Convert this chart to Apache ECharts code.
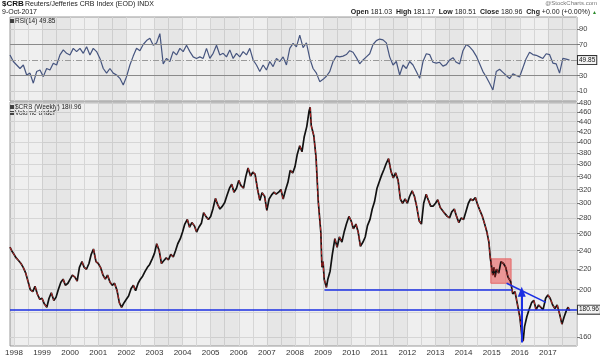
<!DOCTYPE html>
<html><head><meta charset="utf-8">
<script src="https://cdn.jsdelivr.net/npm/echarts@6/dist/echarts.min.js"></script>
<style>html,body{margin:0;padding:0;background:#fff}#c{width:600px;height:358px}</style>
</head><body><div id="c"></div>
<script>
// ---- data ----
const priceYears = [1997.86,1997.92,
1998.00,1998.08,1998.17,1998.25,1998.33,1998.42,1998.50,1998.58,1998.67,1998.75,1998.83,1998.92,
1999.00,1999.08,1999.17,1999.25,1999.33,1999.42,1999.50,1999.58,1999.67,1999.75,1999.83,1999.92,
2000.00,2000.08,2000.17,2000.25,2000.33,2000.42,2000.50,2000.58,2000.67,2000.75,2000.83,2000.92,
2001.00,2001.08,2001.17,2001.25,2001.33,2001.42,2001.50,2001.58,2001.67,2001.75,2001.83,2001.92,
2002.00,2002.08,2002.17,2002.25,2002.33,2002.42,2002.50,2002.58,2002.67,2002.75,2002.83,2002.92,
2003.00,2003.08,2003.17,2003.25,2003.33,2003.42,2003.50,2003.58,2003.67,2003.75,2003.83,2003.92,
2004.00,2004.08,2004.17,2004.25,2004.33,2004.42,2004.50,2004.58,2004.67,2004.75,2004.83,2004.92,
2005.00,2005.08,2005.17,2005.25,2005.33,2005.42,2005.50,2005.58,2005.67,2005.75,2005.83,2005.92,
2006.00,2006.08,2006.17,2006.25,2006.33,2006.42,2006.50,2006.58,2006.67,2006.75,2006.83,2006.92,
2007.00,2007.08,2007.17,2007.25,2007.33,2007.42,2007.50,2007.58,2007.67,2007.75,2007.83,2007.92,
2008.00,2008.08,2008.17,2008.25,2008.33,2008.42,2008.50,2008.54,2008.58,2008.67,2008.75,2008.83,2008.92,2008.96,
2009.00,2009.04,2009.12,2009.17,2009.25,2009.33,2009.42,2009.50,2009.58,2009.67,2009.75,2009.83,2009.92,
2010.00,2010.08,2010.17,2010.25,2010.33,2010.42,2010.50,2010.58,2010.67,2010.75,2010.83,2010.92,
2011.00,2011.08,2011.17,2011.25,2011.33,2011.42,2011.50,2011.58,2011.67,2011.75,2011.83,2011.92,
2012.00,2012.08,2012.17,2012.25,2012.33,2012.42,2012.50,2012.58,2012.67,2012.75,2012.83,2012.92,
2013.00,2013.08,2013.17,2013.25,2013.33,2013.42,2013.50,2013.58,2013.67,2013.75,2013.83,2013.92,
2014.00,2014.08,2014.17,2014.25,2014.33,2014.42,2014.50,2014.58,2014.67,2014.75,2014.83,2014.90,2014.95,
2015.00,2015.04,2015.08,2015.12,2015.17,2015.25,2015.33,2015.42,2015.50,2015.58,2015.67,2015.75,2015.83,2015.92,
2016.00,2016.04,2016.08,2016.12,2016.17,2016.25,2016.33,2016.42,2016.50,2016.58,2016.67,2016.75,2016.83,2016.92,
2017.00,2017.08,2017.17,2017.25,2017.33,2017.42,2017.50,2017.58,2017.67,2017.72,2017.77];
const priceValues = [244,240,
236,232,229,226,222,216,208,200,198,203,196,191,
192,187,184,192,197,190,193,200,207,210,204,206,
210,214,212,208,222,228,222,220,226,236,242,228,
226,222,214,210,214,207,204,206,199,188,184,188,
191,194,201,204,199,206,210,213,218,222,225,231,
237,248,240,226,229,232,230,236,233,240,248,254,
262,272,278,268,274,270,262,268,273,287,282,278,
282,292,307,298,292,296,301,311,322,328,316,322,
334,326,322,340,354,341,347,344,320,304,315,310,
290,306,312,316,313,316,320,306,320,331,350,346,
356,377,393,382,410,430,462,471,432,412,372,302,262,222,
228,210,202,210,218,236,254,244,256,250,262,272,282,
276,266,272,262,245,250,256,270,278,292,302,322,
332,342,352,362,370,348,338,346,334,306,300,306,
300,310,318,310,296,276,272,300,313,304,296,296,
300,305,294,290,286,282,280,288,292,282,274,280,
278,288,300,306,304,308,298,290,282,272,262,250,232,
222,214,222,212,220,216,228,226,222,212,208,196,198,186,
176,168,160,157,168,176,182,188,190,182,186,184,182,192,
195,192,186,183,186,178,170,176,182,184,181];

const rsiStart = 1997.86, rsiEnd = 2017.77;
const rsiValues = [56.5,48,43.5,39,43.5,30.6,33,20,35,37,28.5,39,37,45.7,43.5,56.5,63,58.6,56.5,65,60.8,65,58.6,67,56.5,65,60.8,52,39,33,39,33,30.6,26.3,17.7,28.5,43.5,55,65,62,70,75,78,69,72,84,45,52,48,60.8,56.5,65,60.8,69,60.8,54,52,54,52,65,52,58.6,69,56.5,58.6,54,63,52,58.6,54,60.8,56.5,65,50,43.5,35,43.5,37,48,41.4,52,48,54,43.5,65,71.5,67,82,
66,72,52,39,33,22,25,29,35,48,55,54,55,57,62,60,53,45,50,54,58,70,75,77,76,72,54,43.5,48,30.6,43.5,39,48,43.5,35,26.3,48,58,57,47,46,47,42,44,50,53,47,45,62,70,67,62,55,45,35,28,20,11.3,35,38,34,30,26,32,30,28,40,52,60,57,56,54,52,58,57,46,45,33,52,51,49.85];

const priceTicks = [160,180,200,220,240,260,280,300,320,340,360,380,400,420,440,460,480];
const rsiTicks = [10,30,70,90];
const yearTicks = [1998,1999,2000,2001,2002,2003,2004,2005,2006,2007,2008,2009,2010,2011,2012,2013,2014,2015,2016,2017];
const lastClose = 180.96, lastRsi = 49.85;
const supportLevel = 182, breakLevel = 200;

// ---- build ----
const L = v => Math.log10(v);
const xMin = 1997.86, xMax = 2018.036;
const halfYears = [];
yearTicks.forEach(y => { halfYears.push(y); halfYears.push(y + 0.5); });
halfYears.push(2018);

const priceData = priceYears.map((t, i) => [t, L(priceValues[i])]);
// red overlay: falling stretches, separated by gaps
const redData = [];
let inRun = false;
for (let i = 1; i < priceValues.length; i++) {
  if (priceValues[i] < priceValues[i - 1]) {
    if (!inRun) { redData.push(priceData[i - 1]); inRun = true; }
    redData.push(priceData[i]);
  } else if (inRun) {
    redData.push([priceData[i - 1][0] + 0.001, '-']);
    inRun = false;
  }
}
const rsiStep = (rsiEnd - rsiStart) / (rsiValues.length - 1);
const rsiData = rsiValues.map((v, i) => [rsiStart + i * rsiStep, v]);
const hiBase = rsiData.map(d => [d[0], 70]);
const hiTop = rsiData.map(d => [d[0], Math.max(d[1], 70) - 70]);
const loBase = rsiData.map(d => [d[0], Math.min(d[1], 30)]);
const loTop = rsiData.map(d => [d[0], 30 - Math.min(d[1], 30)]);

const bands = [];
[1997, 1999, 2001, 2003, 2005, 2007, 2009, 2011, 2013, 2015, 2017].forEach(y => {
  bands.push([{ xAxis: Math.max(y, xMin), itemStyle: { color: 'rgba(0,0,0,0.035)' } }, { xAxis: Math.min(y + 1, xMax) }]);
});

const FONT = 'Liberation Sans, Arial, sans-serif';
const blue = '#1b2fe3';
const rsiColor = '#46557f';
const clear = 'rgba(0,0,0,0)';

const chart = echarts.init(document.getElementById('c'), null, { renderer: 'canvas' });
const boxLabel = {
  show: true, position: 'end', distance: 1, fontSize: 6.5, color: '#111', fontFamily: FONT, opacity: 1,
  backgroundColor: '#f4f4f4', borderColor: '#333', borderWidth: 1, padding: [1, 1, 0, 1]
};
chart.setOption({
  animation: false,
  textStyle: { fontFamily: FONT },
  grid: [
    { left: 10, right: 23, top: 17, height: 84, show: true, backgroundColor: '#efefef', borderColor: '#9a9a9a', borderWidth: 1 },
    { left: 10, right: 23, top: 102, height: 244, show: true, backgroundColor: '#efefef', borderColor: '#9a9a9a', borderWidth: 1 }
  ],
  xAxis: [
    { gridIndex: 0, type: 'value', min: xMin, max: xMax, axisLine: { show: false },
      axisTick: { show: false, customValues: halfYears }, axisLabel: { show: false },
      splitLine: { show: true, lineStyle: { color: '#d6d6d6', width: 1 } } },
    { gridIndex: 1, type: 'value', min: xMin, max: xMax, axisLine: { show: false },
      axisTick: { show: false, customValues: halfYears },
      axisLabel: { show: true, customValues: yearTicks, formatter: v => String(Math.round(v)), fontSize: 8, color: '#333', margin: 3 },
      splitLine: { show: true, lineStyle: { color: '#d6d6d6', width: 1 } } }
  ],
  yAxis: [
    { gridIndex: 0, type: 'value', min: -3, max: 105.5, position: 'right', axisLine: { show: false },
      axisTick: { show: true, length: 3, lineStyle: { color: '#777' }, customValues: [10, 30, 70, 90] },
      axisLabel: { customValues: rsiTicks, fontSize: 7.5, color: '#444', margin: 2 },
      splitLine: { show: true, lineStyle: { color: '#d2d2d2' } } },
    { gridIndex: 1, type: 'value', min: L(153.4), max: L(482.7), position: 'right', axisLine: { show: false },
      axisTick: { show: true, length: 3, lineStyle: { color: '#777' }, customValues: priceTicks.map(L) },
      axisLabel: { customValues: priceTicks.map(L), formatter: v => String(Math.round(Math.pow(10, v))), fontSize: 7.5, color: '#444', margin: 2 },
      splitLine: { show: true, lineStyle: { color: '#d6d6d6' } } }
  ],
  series: [
    { type: 'line', xAxisIndex: 0, yAxisIndex: 0, data: hiBase, stack: 'hi', symbol: 'none', lineStyle: { width: 0, color: clear }, silent: true,
      markArea: { silent: true, data: bands },
      markLine: { silent: true, symbol: 'none', lineStyle: { type: 'solid' }, data: [
        { yAxis: 70, lineStyle: { color: '#8a8a8a', width: 1.2, type: 'solid' }, label: { show: false } },
        { yAxis: 30, lineStyle: { color: '#8a8a8a', width: 1.2, type: 'solid' }, label: { show: false } },
        { yAxis: 50, lineStyle: { color: '#9a9a9a', width: 1, type: [6, 2, 1, 2] }, label: { show: false } }
      ] } },
    { type: 'line', xAxisIndex: 0, yAxisIndex: 0, data: hiTop, stack: 'hi', symbol: 'none', lineStyle: { width: 0, color: clear },
      areaStyle: { color: rsiColor, opacity: 0.75 }, silent: true },
    { type: 'line', xAxisIndex: 0, yAxisIndex: 0, data: loBase, stack: 'lo', symbol: 'none', lineStyle: { width: 0, color: clear }, silent: true },
    { type: 'line', xAxisIndex: 0, yAxisIndex: 0, data: loTop, stack: 'lo', symbol: 'none', lineStyle: { width: 0, color: clear },
      areaStyle: { color: rsiColor, opacity: 0.75 }, silent: true },
    { type: 'line', xAxisIndex: 0, yAxisIndex: 0, data: rsiData, symbol: 'none', lineStyle: { color: rsiColor, width: 1.2 },
      markLine: { silent: true, symbol: 'none', data: [
        { yAxis: lastRsi, lineStyle: { color: clear, width: 0 }, label: Object.assign({}, boxLabel, { formatter: String(lastRsi) }) }
      ] } },
    { type: 'line', xAxisIndex: 1, yAxisIndex: 1, data: priceData, symbol: 'none', lineStyle: { color: '#111', width: 1.7 },
      markArea: { silent: true, data: bands.concat([
        [{ coord: [2014.97, L(231)], itemStyle: { color: 'rgba(238,96,96,0.6)', borderColor: '#e46a6a', borderWidth: 1 } },
         { coord: [2015.69, L(206)] }]
      ]) },
      markLine: { silent: true, symbol: 'none', lineStyle: { type: 'solid' }, label: { show: false }, data: [
        [{ coord: [xMin, L(supportLevel)], lineStyle: { color: blue, width: 1.6, type: 'solid' } }, { coord: [xMax, L(supportLevel)] }],
        [{ coord: [2009.05, L(breakLevel)], lineStyle: { color: blue, width: 1.6, type: 'solid' } }, { coord: [2015.72, L(breakLevel)] }],
        [{ coord: [2015.53, L(206)], lineStyle: { color: blue, width: 1.6, type: 'solid' } }, { coord: [2016.93, L(188.3)] }],
        [{ coord: [2016.07, L(156)], symbol: 'none', lineStyle: { color: blue, width: 2, type: 'solid' } },
         { coord: [2016.07, L(198)], symbol: 'triangle', symbolSize: [8, 10], itemStyle: { color: blue } }],
        { yAxis: L(lastClose), lineStyle: { color: clear, width: 0 }, label: Object.assign({}, boxLabel, { formatter: String(lastClose) }) }
      ] } },
    { type: 'line', xAxisIndex: 1, yAxisIndex: 1, data: redData, symbol: 'none', connectNulls: false,
      lineStyle: { color: '#d42a2a', width: 0.9, type: [4, 2] }, silent: true, z: 3 }
  ],
  graphic: [
    { type: 'text', left: 2, top: 0, style: { text: '$CRB', font: 'bold 8px ' + FONT, fill: '#111' } },
    { type: 'text', left: 25, top: 1, style: { text: 'Reuters/Jefferies CRB Index (EOD) INDX', font: '7px ' + FONT, fill: '#222' } },
    { type: 'text', left: 2, top: 9, style: { text: '9-Oct-2017', font: '7px ' + FONT, fill: '#222' } },
    { type: 'text', right: 3, top: 0, style: { text: '@StockCharts.com', font: '6px ' + FONT, fill: '#777' } },
    { type: 'text', right: 3, top: 9, style: {
        text: '{b|Open} 181.03  {b|High} 181.17  {b|Low} 180.51  {b|Close} 180.96  {b|Chg} +0.00 (+0.00%) {g|▲}',
        font: '7px ' + FONT, fill: '#222',
        rich: { b: { fontWeight: 'bold', fontSize: 7, fontFamily: FONT }, g: { fill: '#2a8a2a', fontSize: 5 } } } },
    { type: 'rect', left: 10, top: 19, shape: { width: 4, height: 4 }, style: { fill: '#444' } },
    { type: 'text', left: 15, top: 18, style: { text: 'RSI(14) 49.85', font: '6.5px ' + FONT, fill: '#222' } },
    { type: 'rect', left: 10, top: 105, shape: { width: 4, height: 4 }, style: { fill: '#444' } },
    { type: 'text', left: 15, top: 104, style: { text: '$CRB (Weekly) 180.96', font: '6.5px ' + FONT, fill: '#222' } },
    { type: 'rect', left: 10, top: 111, shape: { width: 4, height: 4 }, style: { fill: '#444' } },
    { type: 'text', left: 15, top: 110, style: { text: 'Volume undef', font: '6.5px ' + FONT, fill: '#222' } }
  ]
});
</script></body></html>
